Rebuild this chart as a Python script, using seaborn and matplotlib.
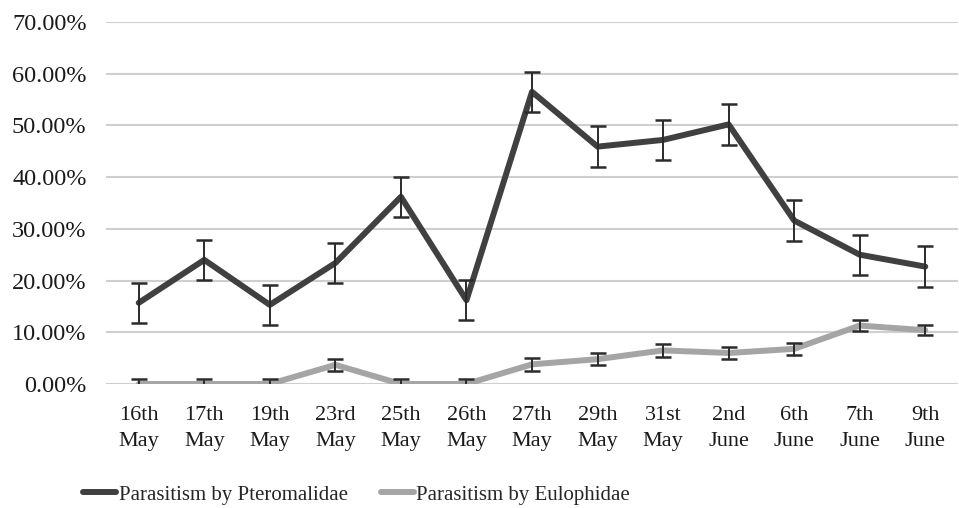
import numpy as np
import pandas as pd
import matplotlib
matplotlib.use('Agg')
import matplotlib.pyplot as plt
import seaborn as sns
from matplotlib.ticker import PercentFormatter

# data
dates = ['16th\nMay', '17th\nMay', '19th\nMay', '23rd\nMay', '25th\nMay', '26th\nMay',
         '27th\nMay', '29th\nMay', '31st\nMay', '2nd\nJune', '6th\nJune', '7th\nJune', '9th\nJune']
ptero = [15.7, 24.0, 15.3, 23.4, 36.2, 16.2, 56.5, 45.9, 47.2, 50.2, 31.6, 25.0, 22.7]
ptero_err = [3.9, 3.9, 3.9, 3.9, 3.9, 3.9, 3.9, 3.9, 3.9, 3.9, 3.9, 3.9, 3.9]
eulo = [0.0, 0.0, 0.0, 3.7, 0.0, 0.0, 3.8, 4.8, 6.5, 6.0, 6.8, 11.3, 10.4]
eulo_err = [0.9, 0.9, 0.9, 1.2, 0.9, 0.9, 1.2, 1.2, 1.2, 1.2, 1.2, 1.0, 1.0]

series_names = ['Parasitism by Pteromalidae', 'Parasitism by Eulophidae']
colors = ['#404040', '#a5a5a5']

df = pd.DataFrame({
    'date': dates * 2,
    'value': ptero + eulo,
    'series': [series_names[0]] * len(dates) + [series_names[1]] * len(dates),
})

sns.set_style('white')
plt.rcParams['font.family'] = ['Liberation Serif', 'DejaVu Serif']

fig = plt.figure(figsize=(9.59, 5.08), dpi=100)
ax = fig.add_axes([0.1105, 0.2441, 0.8885, 0.7126])

sns.lineplot(data=df, x='date', y='value', hue='series', palette=colors,
             linewidth=4.3, ax=ax, sort=False, zorder=3)

# error bars
for vals, errs in [(ptero, ptero_err), (eulo, eulo_err)]:
    ax.errorbar(dates, vals, yerr=errs, fmt='none', ecolor='#2b2b2b',
                elinewidth=1.4, capsize=6, capthick=1.8, zorder=4)

ax.set_ylim(0, 70)
ax.set_xlim(-0.5, len(dates) - 0.5)
ax.set_yticks(np.arange(0, 71, 10))
ax.yaxis.set_major_formatter(PercentFormatter(100, decimals=2))
ax.grid(axis='y', color='#cfcfcf', linewidth=1.5)
ax.set_axisbelow(True)
for s in ax.spines.values():
    s.set_visible(False)
ax.tick_params(axis='both', length=0, colors='#1a1a1a')
ax.tick_params(axis='y', pad=14, labelsize=17.5)
ax.tick_params(axis='x', pad=16, labelsize=16)
for lab in ax.get_xticklabels():
    lab.set_linespacing(1.5)
ax.set_xlabel('')
ax.set_ylabel('')

handles, labels = ax.get_legend_handles_labels()
ax.get_legend().remove()
fig.legend(handles, labels, loc='center left', bbox_to_anchor=(0.078, 0.026), ncol=2,
           frameon=False, fontsize=15, handlelength=1.6, handletextpad=0.1,
           columnspacing=1.6, borderaxespad=0)

fig.savefig('out.png', dpi=100)
